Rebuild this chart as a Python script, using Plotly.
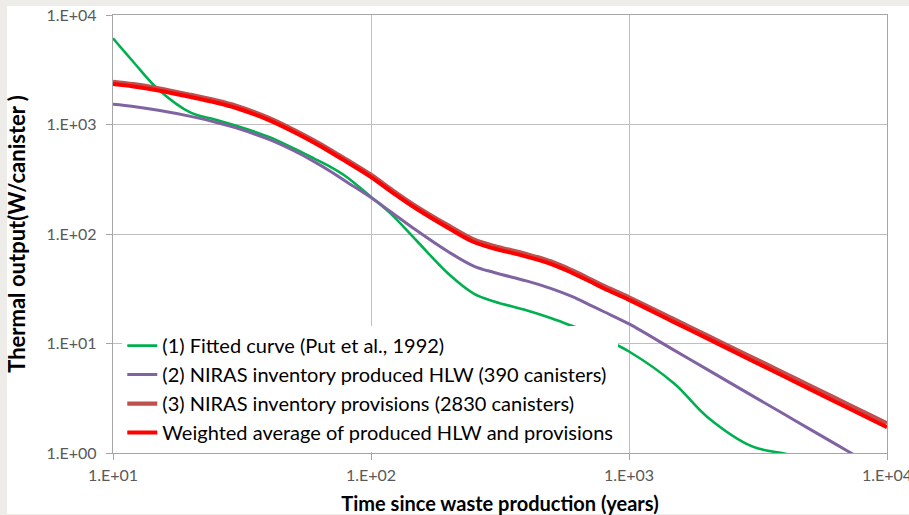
import plotly.graph_objects as go

# Time since waste production (years)
years = [10, 12, 15, 20, 25, 30, 40, 50, 60, 70, 80, 100, 120, 150, 200, 250, 300,
         400, 500, 600, 700, 800, 1000, 1500, 2000, 3000, 4000, 5000, 7000, 10000]

# Thermal output (W/canister)
fitted_curve = [6127, 3723, 2087, 1282, 1104, 973, 775, 608, 491, 407, 335, 218, 151, 87.2,
                43.1, 28.6, 24.2, 20.1, 17.0, 14.5, 12.7, 11.0, 8.45, 4.29, 2.16, 1.15,
                0.99, 0.90, 0.75, 0.60]
niras_hlw = [1529, 1460, 1348, 1186, 1050, 931, 734, 579, 461, 371, 302, 215, 158, 108,
             68.5, 51.0, 44.5, 37.3, 31.7, 26.9, 22.7, 19.5, 15.1, 8.65, 5.83, 3.34,
             2.26, 1.66, 1.05, 0.64]
niras_provisions = [2456, 2334, 2141, 1865, 1662, 1482, 1153, 898, 716, 582, 481, 347, 255,
                    178.5, 119.1, 89.1, 77.7, 65.6, 56.0, 46.7, 39.2, 33.5, 26.4, 16.6, 11.9,
                    7.47, 5.37, 4.15, 2.81, 1.87]
weighted_avg = [2344, 2228, 2045, 1783, 1588, 1415, 1102, 859, 685, 556, 459, 331, 243,
                170, 113, 84.5, 73.7, 62.2, 53.1, 44.3, 37.2, 31.8, 25.0, 15.6, 11.2,
                6.97, 4.99, 3.85, 2.60, 1.72]

series_names = ["(1) Fitted curve (Put et al., 1992)",
                "(2) NIRAS inventory produced HLW (390 canisters)",
                "(3) NIRAS inventory provisions (2830 canisters)",
                "Weighted average of produced HLW and provisions"]

x_tickvals = [10, 100, 1000, 10000]
x_ticktext = ["1.E+01", "1.E+02", "1.E+03", "1.E+04"]
y_tickvals = [1, 10, 100, 1000, 10000]
y_ticktext = ["1.E+00", "1.E+01", "1.E+02", "1.E+03", "1.E+04"]

FONT = "Lato"

fig = go.Figure()
styles = [("#00B050", 2.6), ("#8064A2", 3.0), ("#C0504D", 4.2), ("#FF0000", 4.0)]
for name, vals, (col, w) in zip(series_names,
                                [fitted_curve, niras_hlw, niras_provisions, weighted_avg],
                                styles):
    fig.add_trace(go.Scatter(x=years, y=vals, mode="lines", name=name,
                             line=dict(color=col, width=w, shape="spline", smoothing=1.0)))

axis_common = dict(type="log", showgrid=True, gridcolor="#BFBFBF", gridwidth=1.4,
                   showline=True, linecolor="#A6A6A6", linewidth=1.4, mirror=True,
                   ticks="outside", ticklen=6, tickcolor="#A6A6A6",
                   tickfont=dict(family=FONT, size=16, color="#595959"),
                   ticklabeloverflow="allow", zeroline=False)

fig.update_xaxes(range=[1, 4], tickvals=x_tickvals, ticktext=x_ticktext,
                 ticklabelstandoff=2,
                 title=dict(text="<b>Time since waste production (years)</b>",
                            font=dict(family=FONT, size=20, color="#000000"), standoff=17),
                 **axis_common)
fig.update_yaxes(range=[0, 4], tickvals=y_tickvals, ticktext=y_ticktext,
                 ticklabelstandoff=6,
                 title=dict(text="<b>Thermal output(W/canister )</b>",
                            font=dict(family=FONT, size=22, color="#000000"), standoff=14),
                 **axis_common)

fig.add_shape(type="rect", xref="paper", yref="paper", x0=-0.137, x1=1.2,
              y0=-0.1393, y1=1.0205, fillcolor="white", line=dict(width=0), layer="below")

fig.update_layout(
    width=909, height=515,
    margin=dict(l=113, r=22, t=15, b=62, autoexpand=False),
    paper_bgcolor="#EDECE8", plot_bgcolor="white",
    font=dict(family=FONT, color="#000000"),
    showlegend=True,
    legend=dict(x=0.012, y=0.002, xanchor="left", yanchor="bottom",
                bgcolor="white", borderwidth=0,
                font=dict(family=FONT, size=20, color="#000000"),
                itemwidth=30, tracegroupgap=0),
)

fig.write_html("out.html")
